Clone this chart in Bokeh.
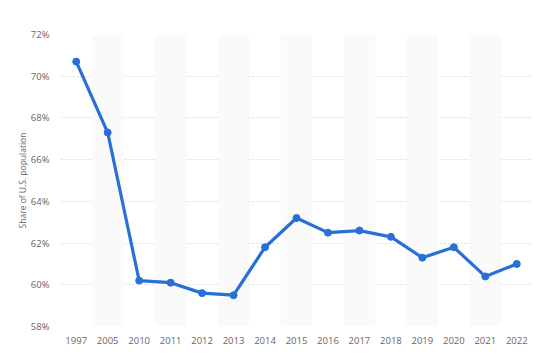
from bokeh.plotting import figure
from bokeh.models import Range1d, FactorRange, FixedTicker, ColumnDataSource, CustomJSTickFormatter
from bokeh.embed import file_html
from bokeh.resources import INLINE

years = ["1997", "2005", "2010", "2011", "2012", "2013", "2014", "2015",
         "2016", "2017", "2018", "2019", "2020", "2021", "2022"]
share = [70.7, 67.3, 60.2, 60.1, 59.6, 59.5, 61.8, 63.2,
         62.5, 62.6, 62.3, 61.3, 61.8, 60.4, 61.0]
y_ticks = [58, 60, 62, 64, 66, 68, 70, 72]

p = figure(width=533, height=346, x_range=FactorRange(*years, range_padding=0),
           y_range=Range1d(58, 72), output_backend="svg", toolbar_location=None,
           min_border_left=60, min_border_right=1, min_border_top=34, min_border_bottom=18)
p.outline_line_color = None
p.background_fill_color = "white"

band_years = years[1::2]
p.vbar(x=band_years, top=72, bottom=58, width=1.0, fill_color="#fafafb", line_color=None)

src = ColumnDataSource(dict(x=years, y=share))
p.line("x", "y", source=src, line_color="#2a6fd6", line_width=3.2)
p.scatter("x", "y", source=src, size=7, fill_color="#2a6fd6", line_color="#2a6fd6")

p.xgrid.grid_line_color = None
p.ygrid.grid_line_color = "#dadada"
p.ygrid.grid_line_dash = "2 2"
p.ygrid.grid_line_width = 1
p.ygrid.level = "underlay"

p.yaxis.ticker = FixedTicker(ticks=y_ticks)
p.yaxis.formatter = CustomJSTickFormatter(code="return tick + '%';")
for ax in (p.xaxis[0], p.yaxis[0]):
    ax.axis_line_color = None
    ax.major_tick_line_color = None
    ax.minor_tick_line_color = None
    ax.major_label_text_font = "Open Sans"
    ax.major_label_text_font_size = "9.5px"
    ax.major_label_text_color = "#666666"
p.yaxis.major_label_standoff = 5
p.xaxis.major_label_standoff = 4
p.yaxis.axis_label = "Share of U.S. population"
p.yaxis.axis_label_text_font = "Open Sans"
p.yaxis.axis_label_text_font_size = "8.5px"
p.yaxis.axis_label_text_font_style = "normal"
p.yaxis.axis_label_text_color = "#666666"
p.yaxis.axis_label_standoff = 0

open("out.html", "w").write(file_html(p, INLINE))
